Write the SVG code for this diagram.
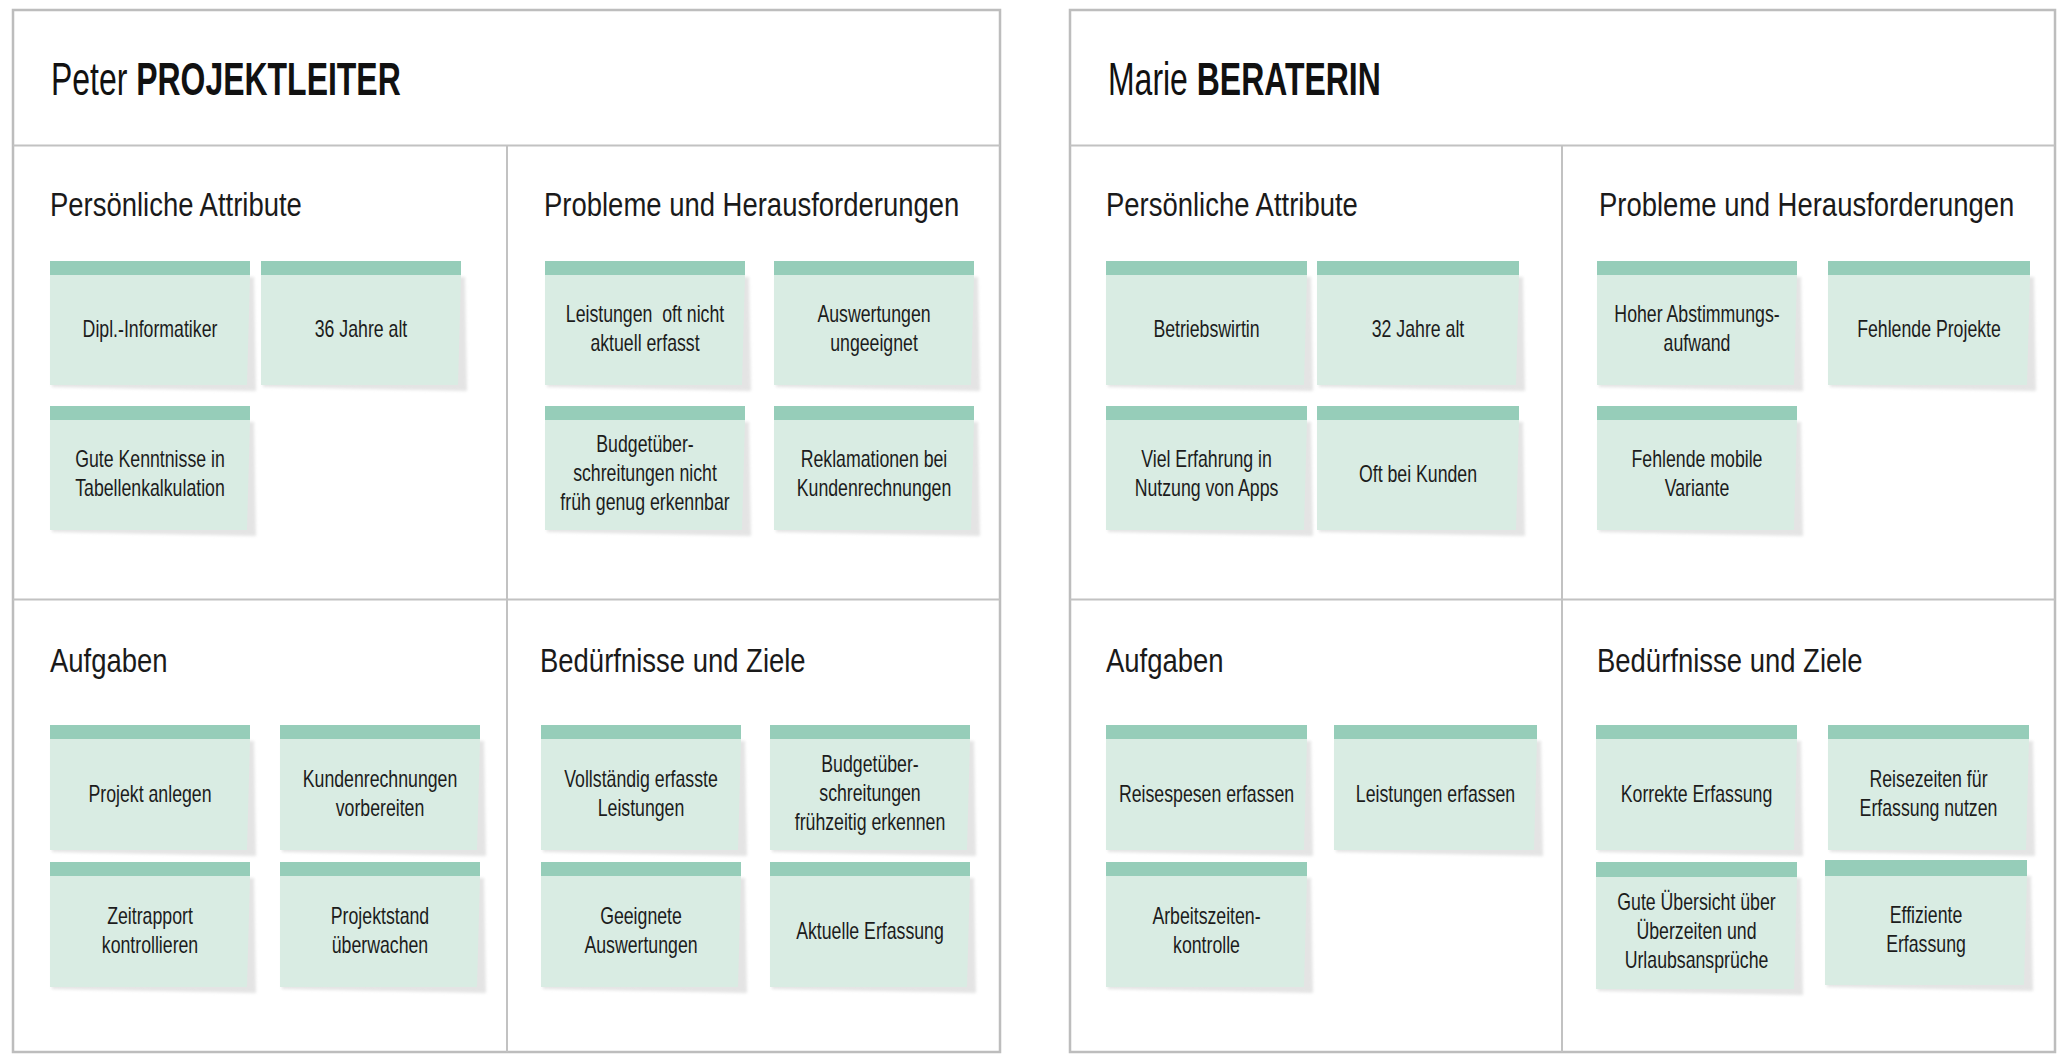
<svg xmlns="http://www.w3.org/2000/svg" width="2062" height="1064" viewBox="0 0 2062 1064">
<defs>
<filter id="blur" x="-10%" y="-10%" width="120%" height="120%"><feGaussianBlur stdDeviation="1.5"/></filter>
</defs>
<style>
.panel{fill:#ffffff;stroke:#bdbdbd;stroke-width:2.5}
.div{stroke:#c2c2c2;stroke-width:2;fill:none}
.title{font-family:"Liberation Sans",Arial,sans-serif;font-size:47px;fill:#111}
.title .b{font-weight:bold}
.h{font-family:"Liberation Sans",Arial,sans-serif;font-size:33.5px;fill:#1a1a1a}
.sh{fill:#e4e4e4;filter:url(#blur)}
.bd{fill:#d9ece3}
.bn{fill:#96cdb9}
.t{font-family:"Liberation Sans",Arial,sans-serif;font-size:23px;fill:#1c1c1c;text-anchor:middle;white-space:pre}
</style>
<rect width="2062" height="1064" fill="#ffffff"/>
<g id="panel-peter">
<rect class="panel" x="13" y="10" width="987" height="1042"/>
<line class="div" x1="13" y1="145.5" x2="1000" y2="145.5"/>
<line class="div" x1="507" y1="145.5" x2="507" y2="1052"/>
<line class="div" x1="13" y1="599.5" x2="1000" y2="599.5"/>
<text class="title" transform="translate(51,95) scale(0.68,1)">Peter <tspan class="b">PROJEKTLEITER</tspan></text>
<text class="h" transform="translate(50,216) scale(0.82,1)">Persönliche Attribute</text>
<text class="h" transform="translate(544,216) scale(0.82,1)">Probleme und Herausforderungen</text>
<text class="h" transform="translate(50,672) scale(0.82,1)">Aufgaben</text>
<text class="h" transform="translate(540,672) scale(0.82,1)">Bedürfnisse und Ziele</text>
</g>
<g id="panel-marie">
<rect class="panel" x="1070" y="10" width="985" height="1042"/>
<line class="div" x1="1070" y1="145.5" x2="2055" y2="145.5"/>
<line class="div" x1="1562" y1="145.5" x2="1562" y2="1052"/>
<line class="div" x1="1070" y1="599.5" x2="2055" y2="599.5"/>
<text class="title" transform="translate(1108,95) scale(0.68,1)">Marie <tspan class="b">BERATERIN</tspan></text>
<text class="h" transform="translate(1106,216) scale(0.82,1)">Persönliche Attribute</text>
<text class="h" transform="translate(1599,216) scale(0.82,1)">Probleme und Herausforderungen</text>
<text class="h" transform="translate(1106,672) scale(0.82,1)">Aufgaben</text>
<text class="h" transform="translate(1597,672) scale(0.82,1)">Bedürfnisse und Ziele</text>
</g>
<g id="connectors"></g>

<g id="p-attr-1" transform="translate(50,261)"><polygon class="sh" points="2,18 204,16 206,130 2,126"/><polygon class="bd" points="0,14 200,14 197,124 0,124"/><rect class="bn" width="200" height="14"/><g transform="translate(100,0) scale(0.77,1)"><text class="t" y="76">Dipl.-Informatiker</text></g></g>
<g id="p-attr-2" transform="translate(261,261)"><polygon class="sh" points="2,18 204,16 206,130 2,126"/><polygon class="bd" points="0,14 200,14 197,124 0,124"/><rect class="bn" width="200" height="14"/><g transform="translate(100,0) scale(0.77,1)"><text class="t" y="76">36 Jahre alt</text></g></g>
<g id="p-attr-3" transform="translate(50,406)"><polygon class="sh" points="2,18 204,16 206,130 2,126"/><polygon class="bd" points="0,14 200,14 197,124 0,124"/><rect class="bn" width="200" height="14"/><g transform="translate(100,0) scale(0.77,1)"><text class="t" y="61.5">Gute Kenntnisse in</text><text class="t" y="90.5">Tabellenkalkulation</text></g></g>

<g id="p-prob-1" transform="translate(545,261)"><polygon class="sh" points="2,18 204,16 206,130 2,126"/><polygon class="bd" points="0,14 200,14 197,124 0,124"/><rect class="bn" width="200" height="14"/><g transform="translate(100,0) scale(0.77,1)"><text class="t" y="61.5">Leistungen  oft nicht</text><text class="t" y="90.5">aktuell erfasst</text></g></g>
<g id="p-prob-2" transform="translate(774,261)"><polygon class="sh" points="2,18 204,16 206,130 2,126"/><polygon class="bd" points="0,14 200,14 197,124 0,124"/><rect class="bn" width="200" height="14"/><g transform="translate(100,0) scale(0.77,1)"><text class="t" y="61.5">Auswertungen</text><text class="t" y="90.5">ungeeignet</text></g></g>
<g id="p-prob-3" transform="translate(545,406)"><polygon class="sh" points="2,18 204,16 206,130 2,126"/><polygon class="bd" points="0,14 200,14 197,124 0,124"/><rect class="bn" width="200" height="14"/><g transform="translate(100,0) scale(0.77,1)"><text class="t" y="46">Budgetüber-</text><text class="t" y="75">schreitungen nicht</text><text class="t" y="104">früh genug erkennbar</text></g></g>
<g id="p-prob-4" transform="translate(774,406)"><polygon class="sh" points="2,18 204,16 206,130 2,126"/><polygon class="bd" points="0,14 200,14 197,124 0,124"/><rect class="bn" width="200" height="14"/><g transform="translate(100,0) scale(0.77,1)"><text class="t" y="61.5">Reklamationen bei</text><text class="t" y="90.5">Kundenrechnungen</text></g></g>

<g id="p-task-1" transform="translate(50,725)"><polygon class="sh" points="2,18 204,16 206,131 2,127"/><polygon class="bd" points="0,14 200,14 197,125 0,125"/><rect class="bn" width="200" height="14"/><g transform="translate(100,0) scale(0.77,1)"><text class="t" y="77">Projekt anlegen</text></g></g>
<g id="p-task-2" transform="translate(280,725)"><polygon class="sh" points="2,18 204,16 206,131 2,127"/><polygon class="bd" points="0,14 200,14 197,125 0,125"/><rect class="bn" width="200" height="14"/><g transform="translate(100,0) scale(0.77,1)"><text class="t" y="62">Kundenrechnungen</text><text class="t" y="91">vorbereiten</text></g></g>
<g id="p-task-3" transform="translate(50,862)"><polygon class="sh" points="2,18 204,16 206,131 2,127"/><polygon class="bd" points="0,14 200,14 197,125 0,125"/><rect class="bn" width="200" height="14"/><g transform="translate(100,0) scale(0.77,1)"><text class="t" y="62">Zeitrapport</text><text class="t" y="91">kontrollieren</text></g></g>
<g id="p-task-4" transform="translate(280,862)"><polygon class="sh" points="2,18 204,16 206,131 2,127"/><polygon class="bd" points="0,14 200,14 197,125 0,125"/><rect class="bn" width="200" height="14"/><g transform="translate(100,0) scale(0.77,1)"><text class="t" y="62">Projektstand</text><text class="t" y="91">überwachen</text></g></g>

<g id="p-goal-1" transform="translate(541,725)"><polygon class="sh" points="2,18 204,16 206,131 2,127"/><polygon class="bd" points="0,14 200,14 197,125 0,125"/><rect class="bn" width="200" height="14"/><g transform="translate(100,0) scale(0.77,1)"><text class="t" y="62">Vollständig erfasste</text><text class="t" y="91">Leistungen</text></g></g>
<g id="p-goal-2" transform="translate(770,725)"><polygon class="sh" points="2,18 204,16 206,131 2,127"/><polygon class="bd" points="0,14 200,14 197,125 0,125"/><rect class="bn" width="200" height="14"/><g transform="translate(100,0) scale(0.77,1)"><text class="t" y="47">Budgetüber-</text><text class="t" y="76">schreitungen</text><text class="t" y="105">frühzeitig erkennen</text></g></g>
<g id="p-goal-3" transform="translate(541,862)"><polygon class="sh" points="2,18 204,16 206,131 2,127"/><polygon class="bd" points="0,14 200,14 197,125 0,125"/><rect class="bn" width="200" height="14"/><g transform="translate(100,0) scale(0.77,1)"><text class="t" y="62">Geeignete</text><text class="t" y="91">Auswertungen</text></g></g>
<g id="p-goal-4" transform="translate(770,862)"><polygon class="sh" points="2,18 204,16 206,131 2,127"/><polygon class="bd" points="0,14 200,14 197,125 0,125"/><rect class="bn" width="200" height="14"/><g transform="translate(100,0) scale(0.77,1)"><text class="t" y="77">Aktuelle Erfassung</text></g></g>

<g id="m-attr-1" transform="translate(1106,261)"><polygon class="sh" points="2,18 205,16 207,130 2,126"/><polygon class="bd" points="0,14 201,14 198,124 0,124"/><rect class="bn" width="201" height="14"/><g transform="translate(100.5,0) scale(0.77,1)"><text class="t" y="76">Betriebswirtin</text></g></g>
<g id="m-attr-2" transform="translate(1317,261)"><polygon class="sh" points="2,18 206,16 208,130 2,126"/><polygon class="bd" points="0,14 202,14 199,124 0,124"/><rect class="bn" width="202" height="14"/><g transform="translate(101,0) scale(0.77,1)"><text class="t" y="76">32 Jahre alt</text></g></g>
<g id="m-attr-3" transform="translate(1106,406)"><polygon class="sh" points="2,18 205,16 207,130 2,126"/><polygon class="bd" points="0,14 201,14 198,124 0,124"/><rect class="bn" width="201" height="14"/><g transform="translate(100.5,0) scale(0.77,1)"><text class="t" y="61.5">Viel Erfahrung in</text><text class="t" y="90.5">Nutzung von Apps</text></g></g>
<g id="m-attr-4" transform="translate(1317,406)"><polygon class="sh" points="2,18 206,16 208,130 2,126"/><polygon class="bd" points="0,14 202,14 199,124 0,124"/><rect class="bn" width="202" height="14"/><g transform="translate(101,0) scale(0.77,1)"><text class="t" y="76">Oft bei Kunden</text></g></g>

<g id="m-prob-1" transform="translate(1597,261)"><polygon class="sh" points="2,18 204,16 206,130 2,126"/><polygon class="bd" points="0,14 200,14 197,124 0,124"/><rect class="bn" width="200" height="14"/><g transform="translate(100,0) scale(0.77,1)"><text class="t" y="61.5">Hoher Abstimmungs-</text><text class="t" y="90.5">aufwand</text></g></g>
<g id="m-prob-2" transform="translate(1828,261)"><polygon class="sh" points="2,18 206,16 208,130 2,126"/><polygon class="bd" points="0,14 202,14 199,124 0,124"/><rect class="bn" width="202" height="14"/><g transform="translate(101,0) scale(0.77,1)"><text class="t" y="76">Fehlende Projekte</text></g></g>
<g id="m-prob-3" transform="translate(1597,406)"><polygon class="sh" points="2,18 204,16 206,130 2,126"/><polygon class="bd" points="0,14 200,14 197,124 0,124"/><rect class="bn" width="200" height="14"/><g transform="translate(100,0) scale(0.77,1)"><text class="t" y="61.5">Fehlende mobile</text><text class="t" y="90.5">Variante</text></g></g>

<g id="m-task-1" transform="translate(1106,725)"><polygon class="sh" points="2,18 205,16 207,131 2,127"/><polygon class="bd" points="0,14 201,14 198,125 0,125"/><rect class="bn" width="201" height="14"/><g transform="translate(100.5,0) scale(0.77,1)"><text class="t" y="77">Reisespesen erfassen</text></g></g>
<g id="m-task-2" transform="translate(1334,725)"><polygon class="sh" points="2,18 207,16 209,131 2,127"/><polygon class="bd" points="0,14 203,14 200,125 0,125"/><rect class="bn" width="203" height="14"/><g transform="translate(101.5,0) scale(0.77,1)"><text class="t" y="77">Leistungen erfassen</text></g></g>
<g id="m-task-3" transform="translate(1106,862)"><polygon class="sh" points="2,18 205,16 207,131 2,127"/><polygon class="bd" points="0,14 201,14 198,125 0,125"/><rect class="bn" width="201" height="14"/><g transform="translate(100.5,0) scale(0.77,1)"><text class="t" y="62">Arbeitszeiten-</text><text class="t" y="91">kontrolle</text></g></g>

<g id="m-goal-1" transform="translate(1596,725)"><polygon class="sh" points="2,18 205,16 207,131 2,127"/><polygon class="bd" points="0,14 201,14 198,125 0,125"/><rect class="bn" width="201" height="14"/><g transform="translate(100.5,0) scale(0.77,1)"><text class="t" y="77">Korrekte Erfassung</text></g></g>
<g id="m-goal-2" transform="translate(1828,725)"><polygon class="sh" points="2,18 205,16 207,131 2,127"/><polygon class="bd" points="0,14 201,14 198,125 0,125"/><rect class="bn" width="201" height="14"/><g transform="translate(100.5,0) scale(0.77,1)"><text class="t" y="62">Reisezeiten für</text><text class="t" y="91">Erfassung nutzen</text></g></g>
<g id="m-goal-3" transform="translate(1596,862)"><polygon class="sh" points="2,18 205,16 207,133 2,129"/><polygon class="bd" points="0,15 201,15 198,127 0,127"/><rect class="bn" width="201" height="15"/><g transform="translate(100.5,0) scale(0.77,1)"><text class="t" y="48">Gute Übersicht über</text><text class="t" y="77">Überzeiten und</text><text class="t" y="106">Urlaubsansprüche</text></g></g>
<g id="m-goal-4" transform="translate(1825,860)"><polygon class="sh" points="2,18 206,16 208,131 2,127"/><polygon class="bd" points="0,16 202,16 199,125 0,125"/><rect class="bn" width="202" height="16"/><g transform="translate(101,0) scale(0.77,1)"><text class="t" y="63">Effiziente</text><text class="t" y="92">Erfassung</text></g></g>
</svg>
